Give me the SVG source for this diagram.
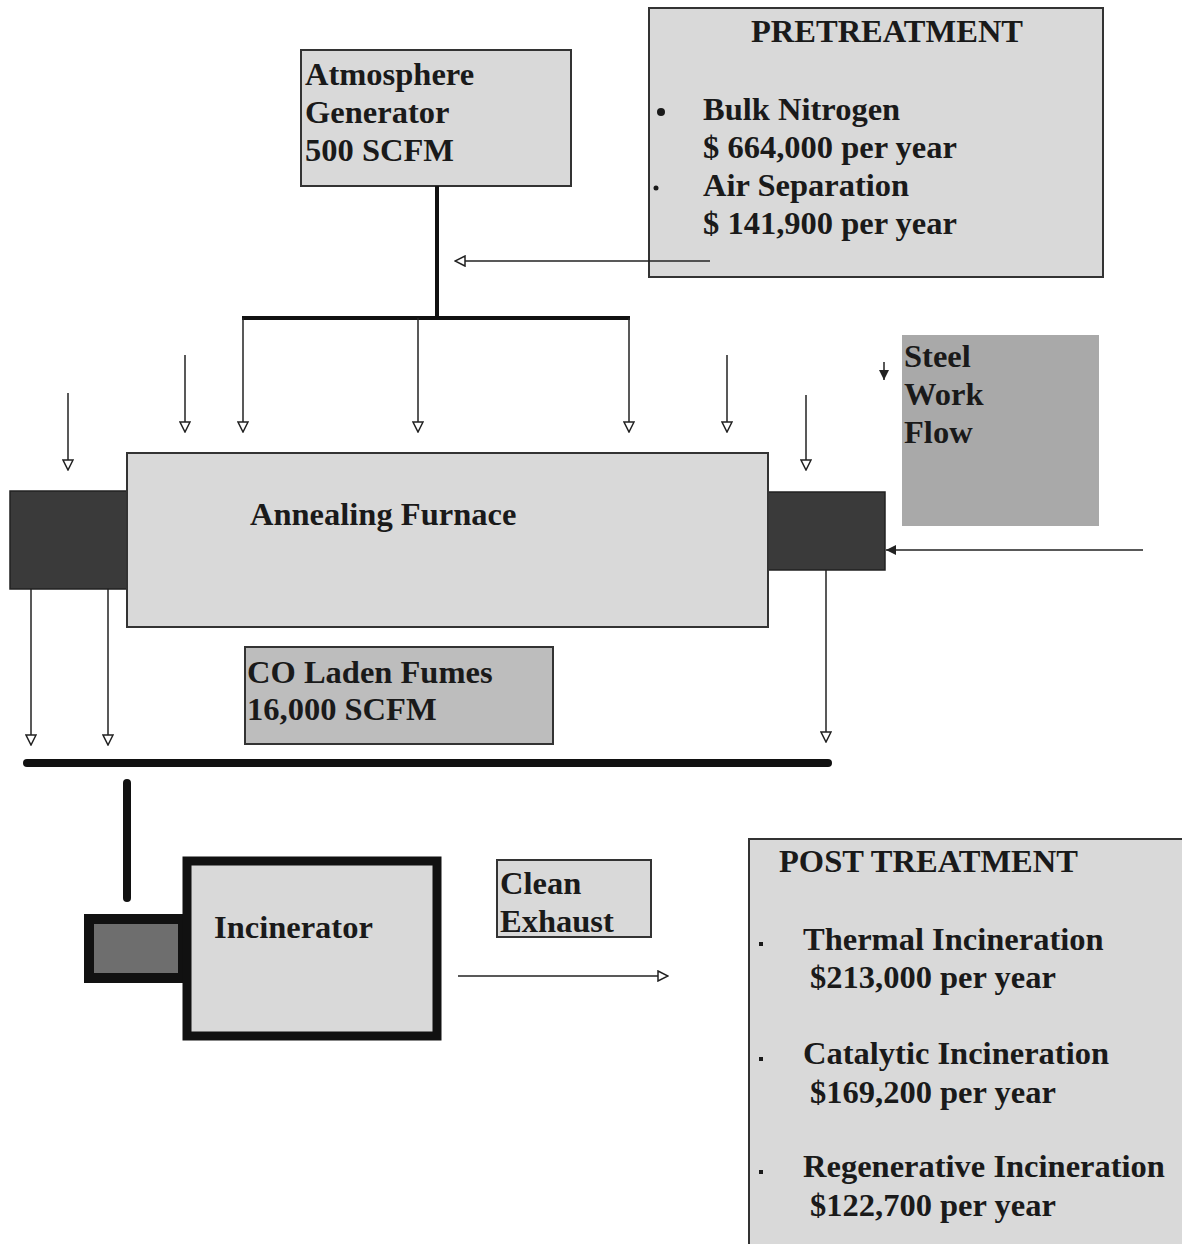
<svg xmlns="http://www.w3.org/2000/svg" width="1182" height="1244" viewBox="0 0 1182 1244">
<defs>
<style>
text{font-family:"Liberation Serif","Times New Roman",serif;font-weight:bold;font-size:32.5px;fill:#1a1a1a}
.box{fill:#d9d9d9;stroke:#333;stroke-width:2}
.dark{fill:#3a3a3a;stroke:#222;stroke-width:1.5}
.ln{stroke:#222;stroke-width:1.5;fill:none}
.thick{stroke:#111;stroke-width:4;fill:none}
.bar{stroke:#111;stroke-width:8;fill:none;stroke-linecap:round}
</style>
<marker id="ah" viewBox="0 0 12 12" refX="11" refY="6" markerWidth="12" markerHeight="12" markerUnits="userSpaceOnUse" orient="auto">
<path d="M1,1 L11,6 L1,11 Z" fill="#fff" stroke="#222" stroke-width="1.5"/>
</marker>
<marker id="ahf" viewBox="0 0 12 12" refX="11" refY="6" markerWidth="12" markerHeight="12" markerUnits="userSpaceOnUse" orient="auto">
<path d="M1,1 L11,6 L1,11 Z" fill="#222"/>
</marker>
</defs>
<rect width="1182" height="1244" fill="#fff"/>

<g id="atmosphere-generator">
<rect class="box" x="301" y="50" width="270" height="136"/>
<text x="305" y="85">Atmosphere</text>
<text x="305" y="123">Generator</text>
<text x="305" y="161">500 SCFM</text>
</g>

<g id="pretreatment">
<rect class="box" x="649" y="8" width="454" height="269"/>
<text x="887" y="42" text-anchor="middle">PRETREATMENT</text>
<circle cx="661" cy="112" r="4" fill="#1a1a1a"/>
<text x="703" y="120">Bulk Nitrogen</text>
<text x="703" y="158">$ 664,000 per year</text>
<circle cx="656" cy="188" r="2.5" fill="#1a1a1a"/>
<text x="703" y="196">Air Separation</text>
<text x="703" y="234">$ 141,900 per year</text>
</g>

<g id="steel-work-flow">
<rect x="902" y="335" width="197" height="191" fill="#a9a9a9"/>
<text x="904" y="367">Steel</text>
<text x="904" y="405">Work</text>
<text x="904" y="443">Flow</text>
</g>

<g id="annealing-furnace">
<rect class="dark" x="10" y="491" width="117" height="98"/>
<rect class="dark" x="768" y="492" width="117" height="78"/>
<rect class="box" x="127" y="453" width="641" height="174"/>
<text x="250" y="525">Annealing Furnace</text>
</g>

<g id="co-laden-fumes">
<rect x="245" y="647" width="308" height="97" fill="#bdbdbd" stroke="#333" stroke-width="2"/>
<text x="247" y="683">CO Laden Fumes</text>
<text x="247" y="720">16,000 SCFM</text>
</g>

<g id="incinerator">
<rect x="89" y="919" width="94" height="59" fill="#6e6e6e" stroke="#111" stroke-width="10"/>
<rect x="187" y="861" width="250" height="175" fill="#d9d9d9" stroke="#111" stroke-width="9"/>
<text x="214" y="938">Incinerator</text>
</g>

<g id="clean-exhaust">
<rect class="box" x="497" y="860" width="154" height="77"/>
<text x="500" y="894">Clean</text>
<text x="500" y="932">Exhaust</text>
</g>

<g id="post-treatment">
<rect class="box" x="749" y="839" width="440" height="410"/>
<text x="779" y="872">POST TREATMENT</text>
<rect x="759" y="942" width="4" height="4" fill="#1a1a1a"/>
<text x="803" y="950">Thermal Incineration</text>
<text x="810" y="988">$213,000 per year</text>
<rect x="759" y="1057" width="4" height="4" fill="#1a1a1a"/>
<text x="803" y="1064">Catalytic Incineration</text>
<text x="810" y="1103">$169,200 per year</text>
<rect x="759" y="1170" width="4" height="4" fill="#1a1a1a"/>
<text x="803" y="1177">Regenerative Incineration</text>
<text x="810" y="1216">$122,700 per year</text>
</g>

<g id="connectors">
<line class="ln" x1="710" y1="261" x2="455" y2="261" marker-end="url(#ah)"/>
<line class="thick" x1="437" y1="186" x2="437" y2="318"/>
<line class="thick" x1="242" y1="318" x2="630" y2="318"/>
<line class="ln" x1="243" y1="318" x2="243" y2="432" marker-end="url(#ah)"/>
<line class="ln" x1="418" y1="318" x2="418" y2="432" marker-end="url(#ah)"/>
<line class="ln" x1="629" y1="318" x2="629" y2="432" marker-end="url(#ah)"/>
<line class="ln" x1="68" y1="393" x2="68" y2="470" marker-end="url(#ah)"/>
<line class="ln" x1="185" y1="355" x2="185" y2="432" marker-end="url(#ah)"/>
<line class="ln" x1="727" y1="355" x2="727" y2="432" marker-end="url(#ah)"/>
<line class="ln" x1="806" y1="395" x2="806" y2="470" marker-end="url(#ah)"/>
<line class="ln" x1="884" y1="362" x2="884" y2="380" marker-end="url(#ahf)"/>
<line class="ln" x1="1143" y1="550" x2="886" y2="550" marker-end="url(#ahf)"/>
<line class="ln" x1="31" y1="589" x2="31" y2="745" marker-end="url(#ah)"/>
<line class="ln" x1="108" y1="589" x2="108" y2="745" marker-end="url(#ah)"/>
<line class="ln" x1="826" y1="570" x2="826" y2="742" marker-end="url(#ah)"/>
<line class="bar" x1="27" y1="763" x2="828" y2="763"/>
<line class="bar" x1="127" y1="783" x2="127" y2="898"/>
<line class="ln" x1="458" y1="976" x2="668" y2="976" marker-end="url(#ah)"/>
</g>
</svg>
